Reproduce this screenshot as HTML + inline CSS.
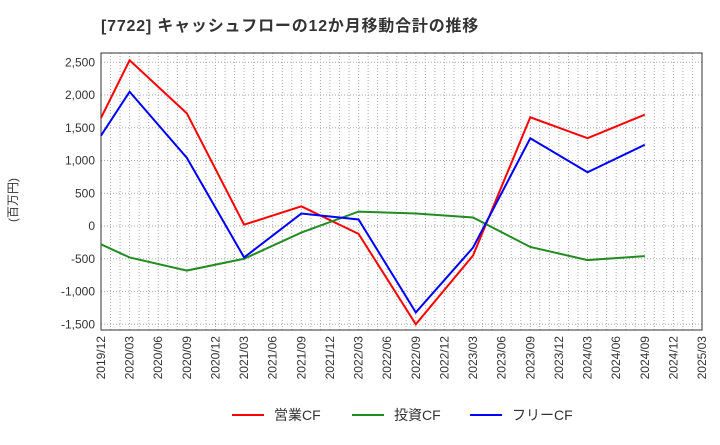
<!DOCTYPE html>
<html><head><meta charset="utf-8">
<style>
body{margin:0;background:#fff;width:720px;height:440px;overflow:hidden;font-family:"Liberation Sans","Noto Sans CJK JP",sans-serif;}
svg text{font-family:"Liberation Sans","Noto Sans CJK JP",sans-serif;}
</style></head>
<body>
<svg id="c" width="720" height="440">
<text x="101" y="31" font-size="16" font-weight="bold" fill="#333" letter-spacing="0.8">[7722]  キャッシュフローの12か月移動合計の推移</text>
<text transform="translate(17,200) rotate(-90)" font-size="12" fill="#333" text-anchor="middle">(百万円)</text>
<g id="grid"></g><g id="axes"></g><g id="series"></g><g id="legend"></g>
</svg>
<script>
const xLabels=["2019/12","2020/03","2020/06","2020/09","2020/12","2021/03","2021/06","2021/09","2021/12","2022/03","2022/06","2022/09","2022/12","2023/03","2023/06","2023/09","2023/12","2024/03","2024/06","2024/09","2024/12","2025/03"];
const yTicks=[2500,2000,1500,1000,500,0,-500,-1000,-1500];
const dataIdx=[0,1,3,5,7,9,11,13,15,17,19];
const opCF=[1650,2530,1720,20,300,-120,-1500,-450,1660,1340,1700];
const invCF=[-280,-480,-680,-500,-100,220,190,130,-320,-520,-460];
const freeCF=[1380,2050,1040,-480,190,100,-1320,-330,1340,820,1240];
const seriesNames=["営業CF","投資CF","フリーCF"];
const colors=["#ff0000","#228b22","#0000ff"];
const X0=101,X1=702,Y0=53,Y1=330;
const xs=q=>X0+(X1-X0)*q/21;
const ys=v=>226-v*0.0655;
const NS="http://www.w3.org/2000/svg";
function mk(tag,attrs,parent){const e=document.createElementNS(NS,tag);for(const k in attrs)e.setAttribute(k,attrs[k]);parent.appendChild(e);return e;}
const grid=document.getElementById('grid'),axes=document.getElementById('axes'),ser=document.getElementById('series'),leg=document.getElementById('legend');
for(let m=1;m<63;m++){const x=X0+(X1-X0)*m/63;
const l=mk('line',{x1:x,x2:x,y1:Y0,y2:Y1,stroke:'#aaa','stroke-dasharray':'1,2','stroke-width':1},grid);

}
yTicks.forEach(v=>{const y=ys(v);
const l=mk('line',{x1:X0,x2:X1,y1:y,y2:y,stroke:'#aaa','stroke-dasharray':'1,2'},grid);


const t=mk('text',{x:X0-6,y:y+4,'font-size':12,'text-anchor':'end',fill:'#333'},axes);t.textContent=v.toLocaleString('en-US');

});
const box=mk('rect',{x:X0,y:Y0,width:X1-X0,height:Y1-Y0,fill:'none',stroke:'#333'},axes);


xLabels.forEach((s,i)=>{const x=xs(i);
const t=mk('text',{transform:`translate(${x+4},${Y1+6}) rotate(-90)`,'font-size':12,'text-anchor':'end',fill:'#333'},axes);t.textContent=s;

});
[opCF,invCF,freeCF].forEach((arr,si)=>{
const p=mk('polyline',{points:arr.map((v,i)=>xs(dataIdx[i])+','+ys(v)).join(' '),fill:'none',stroke:colors[si],'stroke-width':2},ser);

});
const lx=[232,352,470];
seriesNames.forEach((n,i)=>{
const g=mk('g',{},leg);


mk('line',{x1:lx[i],x2:lx[i]+32,y1:415,y2:415,stroke:colors[i],'stroke-width':2},g);
const t=mk('text',{x:lx[i]+42,y:420,'font-size':14,fill:'#333'},g);t.textContent=n;});
</script>
</body></html>
